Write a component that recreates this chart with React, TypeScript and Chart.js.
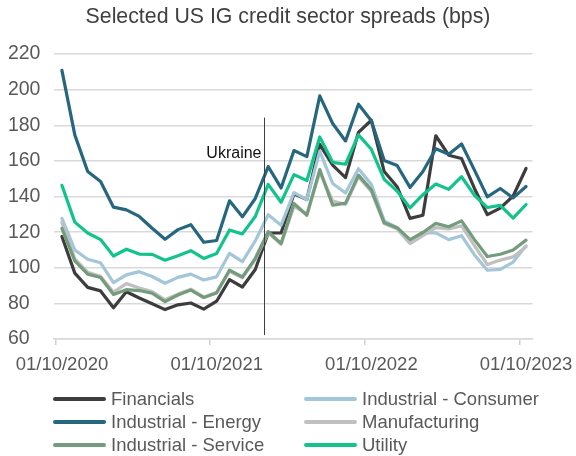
import React, { useEffect, useRef } from "react";
import { Chart, registerables } from "chart.js";

Chart.register(...registerables);

const chartTitle = "Selected US IG credit sector spreads (bps)";

// monthly observations, Oct 2020 .. Oct 2023
const months = [
  "2020-10", "2020-11", "2020-12", "2021-01", "2021-02", "2021-03", "2021-04", "2021-05", "2021-06",
  "2021-07", "2021-08", "2021-09", "2021-10", "2021-11", "2021-12", "2022-01", "2022-02", "2022-03",
  "2022-04", "2022-05", "2022-06", "2022-07", "2022-08", "2022-09", "2022-10", "2022-11", "2022-12",
  "2023-01", "2023-02", "2023-03", "2023-04", "2023-05", "2023-06", "2023-07", "2023-08", "2023-09",
  "2023-10",
];

const financials = [117.5, 97, 89, 87, 77.5, 86.5, 83, 79.8, 76.5, 79.2, 80.2, 76.8, 81.2, 93.3, 89.2, 99, 119.5, 119.5, 141.5, 138.3, 169.3, 157.6, 150.6, 176, 182.8, 154, 145.5, 127.7, 129.5, 174.1, 163.2, 161.3, 144.5, 129.8, 133.5, 140.3, 155.7];
const industrialConsumer = [127.7, 110, 104.8, 102.8, 91.6, 96, 97.8, 95.1, 91.3, 94.6, 96.4, 93.1, 94.9, 108.1, 103.4, 115.1, 129.8, 123.9, 142.2, 138.2, 165.5, 147.3, 142, 155.6, 146.8, 126.3, 122.5, 115.2, 119.6, 119.6, 115.8, 118, 107.2, 98.6, 99.1, 103.2, 112.3];
const industrialEnergy = [210.8, 174.6, 154, 148.4, 134, 132.5, 128.8, 122.2, 116, 121.4, 124.2, 114.3, 115.3, 137.6, 128.6, 138.9, 156.8, 144.8, 165.8, 162.4, 196.5, 181, 171.2, 191.8, 182.5, 160.2, 157.4, 145.1, 154, 166.8, 163.7, 169.5, 154.8, 139.8, 144.5, 139.2, 145.6];
const manufacturing = [125.6, 105, 97.5, 95.2, 86.3, 91.1, 88.6, 86.6, 82, 85.2, 88, 83.5, 86.3, 98, 94.3, 104.6, 119.6, 113.2, 134.5, 130.2, 153.5, 137.5, 135.6, 151, 142.9, 124.8, 121.7, 113.6, 118, 122.5, 121.8, 123.5, 112.4, 101.8, 104.3, 106.1, 111.8];
const industrialService = [122.1, 103.9, 96.4, 94.5, 85, 87.7, 87.2, 85.7, 81, 84.7, 87.5, 83.3, 85.8, 98.7, 94.8, 105.3, 120.2, 113.6, 136.1, 129.5, 155.1, 135.1, 136.3, 152, 143.7, 125.2, 122.5, 115.8, 119.8, 124.9, 123, 126.3, 115.8, 106.3, 107.6, 110, 115.5];
const utility = [146.3, 125.6, 119.5, 115.8, 106.6, 110.4, 107.7, 107.5, 104.2, 106.8, 109.6, 105.2, 108, 121.2, 119, 128.8, 146.8, 136.8, 152.3, 149, 173.4, 159.2, 158.1, 174.6, 166.5, 149.6, 143.1, 133.6, 141, 147, 144, 151.1, 140.7, 133.8, 135, 127.9, 135.5];

const seriesNames = ["Financials", "Industrial - Consumer", "Industrial - Energy", "Manufacturing", "Industrial - Service", "Utility"];
const seriesValues = [financials, industrialConsumer, industrialEnergy, manufacturing, industrialService, utility];
const seriesColors = ["#3d3d3d", "#a3c6d9", "#26667f", "#c0c0c0", "#749c7c", "#12c38b"];

const xTickValues = [0, 12, 24, 36];
const xTickLabels = ["01/10/2020", "01/10/2021", "01/10/2022", "01/10/2023"];
const yTicks = [60, 80, 100, 120, 140, 160, 180, 200, 220];

const ukraineLabel = "Ukraine";
const ukraineMonth = 16.2;
const ukraineTop = 184.3;
const ukraineBottom = 62.2;
const ukraineLabelY = 164.2;

const FONT = "'Liberation Sans', Arial, Helvetica, sans-serif";

const ukrainePlugin = {
  id: "ukraineMarker",
  afterDatasetsDraw(chart: any) {
    const { ctx, scales } = chart;
    const x = scales.x;
    const y = scales.y;
    const px = Math.round(x.getPixelForValue(ukraineMonth)) + 0.5;
    ctx.save();
    ctx.strokeStyle = "#404040";
    ctx.lineWidth = 1;
    ctx.beginPath();
    ctx.moveTo(px, y.getPixelForValue(ukraineTop));
    ctx.lineTo(px, y.getPixelForValue(ukraineBottom));
    ctx.stroke();
    ctx.font = "16px " + FONT;
    ctx.fillStyle = "#111111";
    ctx.textAlign = "right";
    ctx.textBaseline = "middle";
    ctx.fillText(ukraineLabel, px - 3, y.getPixelForValue(ukraineLabelY));
    ctx.restore();
  },
};

const legendRows = [
  [0, 1],
  [2, 3],
  [4, 5],
];
const legendColX = [53, 304];
const legendRowY = [399, 422, 445];

export default function App() {
  const canvasRef = useRef<HTMLCanvasElement | null>(null);

  useEffect(() => {
    const canvas = canvasRef.current;
    if (!canvas) return;
    const datasets = seriesNames.map((name, s) => ({
      label: name,
      data: seriesValues[s].map((v, i) => ({ x: i + 0.5, y: v })),
      borderColor: seriesColors[s],
      backgroundColor: seriesColors[s],
      borderWidth: 3.2,
      pointRadius: 0,
      pointHoverRadius: 0,
      tension: 0,
      fill: false,
      borderJoinStyle: "round" as const,
      borderCapStyle: "round" as const,
      order: seriesNames.length - 1 - s,
    }));
    const chart = new Chart(canvas, {
      type: "line",
      data: { labels: months, datasets },
      plugins: [ukrainePlugin],
      options: {
        responsive: false,
        animation: false,
        maintainAspectRatio: false,
        layout: { padding: { left: 7, right: 42, top: 54, bottom: 78 } },
        plugins: {
          legend: { display: false },
          tooltip: { enabled: false },
          title: { display: false },
        },
        scales: {
          x: {
            type: "linear",
            min: -0.12,
            max: 37,
            grid: { drawOnChartArea: false, drawTicks: true, tickLength: 6, color: "#d0d0d0", lineWidth: 1.5 },
            border: { display: true, color: "#d9d9d9", width: 1.5 },
            ticks: {
              autoSkip: false,
              maxRotation: 0,
              minRotation: 0,
              padding: 9,
              labelOffset: 6.5,
              color: "#595959",
              font: { size: 18.5, family: FONT },
              callback: (v: any) => {
                const k = xTickValues.indexOf(Number(v));
                return k >= 0 ? xTickLabels[k] : "";
              },
            },
            afterBuildTicks: (s: any) => {
              s.ticks = xTickValues.map((v) => ({ value: v }));
            },
            afterFit: (s: any) => {
              s.height = 39;
            },
          },
          y: {
            min: yTicks[0],
            max: yTicks[yTicks.length - 1],
            grid: { color: "#d9d9d9", lineWidth: 1.5, drawTicks: false },
            border: { display: false },
            ticks: {
              stepSize: 20,
              padding: 7,
              crossAlign: "far",
              color: "#595959",
              font: { size: 19.5, family: FONT },
            },
            afterBuildTicks: (s: any) => {
              s.ticks = yTicks.map((v) => ({ value: v }));
            },
            afterFit: (s: any) => {
              s.width = 46;
            },
          },
        },
      } as any,
    });
    return () => chart.destroy();
  }, []);

  return (
    <div style={{ position: "fixed", left: 0, top: 0, width: 576, height: 456, background: "#ffffff", overflow: "hidden" }}>
      <canvas ref={canvasRef} width={576} height={456} style={{ display: "block", width: 576, height: 456 }} />
      <div
        style={{
          position: "absolute",
          left: 0,
          top: 3,
          width: 576,
          height: 26,
          lineHeight: "26px",
          textAlign: "center",
          fontSize: 21.3,
          fontFamily: FONT,
          color: "#404040",
          whiteSpace: "nowrap",
        }}
      >
        {chartTitle}
      </div>
      {legendRows.map((row, r) =>
        row.map((s, c) => (
          <div key={seriesNames[s]}>
            <div
              style={{
                position: "absolute",
                left: legendColX[c],
                top: legendRowY[r] - 2,
                width: 53,
                height: 4,
                borderRadius: 2,
                background: seriesColors[s],
              }}
            />
            <div
              style={{
                position: "absolute",
                left: legendColX[c] + 58,
                top: legendRowY[r] - 12,
                height: 24,
                lineHeight: "24px",
                fontSize: 18.5,
                fontFamily: FONT,
                color: "#595959",
                whiteSpace: "nowrap",
              }}
            >
              {seriesNames[s]}
            </div>
          </div>
        ))
      )}
    </div>
  );
}
